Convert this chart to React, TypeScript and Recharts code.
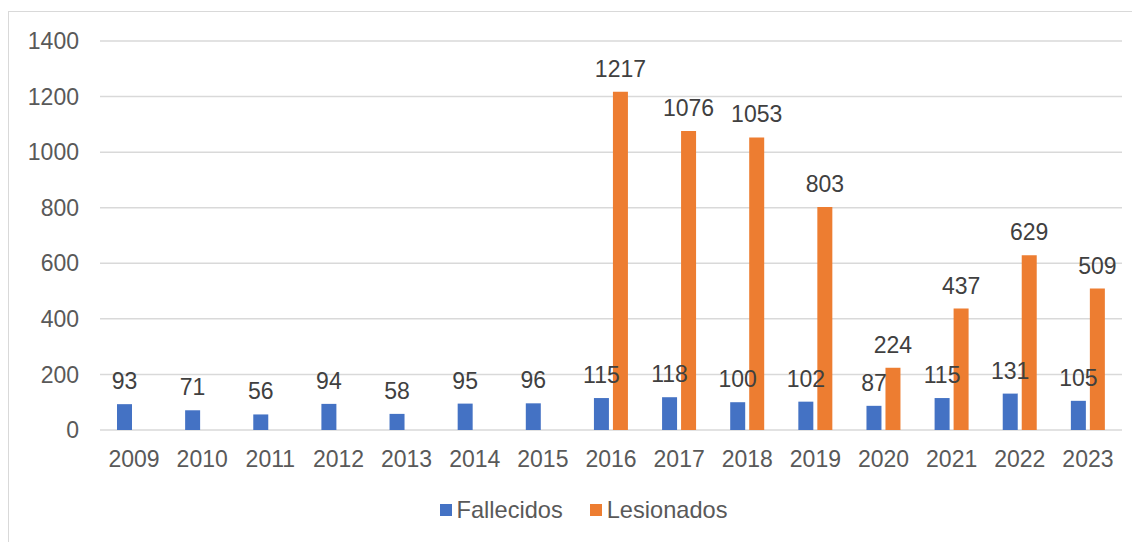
import { BarChart, Bar, XAxis, YAxis, CartesianGrid, Legend, LabelList } from "recharts";

const YEARS = ["2009", "2010", "2011", "2012", "2013", "2014", "2015", "2016", "2017", "2018", "2019", "2020", "2021", "2022", "2023"];
const FALLECIDOS = [93, 71, 56, 94, 58, 95, 96, 115, 118, 100, 102, 87, 115, 131, 105];
const LESIONADOS = [null, null, null, null, null, null, null, 1217, 1076, 1053, 803, 224, 437, 629, 509];
const Y_TICKS = [0, 200, 400, 600, 800, 1000, 1200, 1400];

const COLORS = {
  fallecidos: "#4472C4",
  lesionados: "#ED7D31",
};

const FONT = '"Liberation Sans", Arial, sans-serif';

const data = YEARS.map((year, i) => ({
  year,
  Fallecidos: FALLECIDOS[i],
  Lesionados: LESIONADOS[i],
}));

function LegendContent() {
  const items = [
    { name: "Fallecidos", color: COLORS.fallecidos },
    { name: "Lesionados", color: COLORS.lesionados },
  ];
  return (
    <div
      style={{
        height: 30,
        display: "flex",
        alignItems: "center",
        justifyContent: "center",
        paddingLeft: 36,
        gap: 27,
        fontFamily: FONT,
        fontSize: 23.6,
        color: "#595959",
      }}
    >
      {items.map((it) => (
        <div key={it.name} style={{ display: "flex", alignItems: "center" }}>
          <span style={{ width: 12, height: 12, background: it.color, marginRight: 5, display: "inline-block" }} />
          <span>{it.name}</span>
        </div>
      ))}
    </div>
  );
}

export default function App() {
  return (
    <div
      style={{
        marginTop: 3,
        width: 1140,
        height: 531,
        borderTop: "1px solid #d9d9d9",
        borderLeft: "1px solid #d9d9d9",
        background: "#fff",
        overflow: "hidden",
      }}
    >
      <BarChart
        width={1131}
        height={530}
        data={data}
        margin={{ top: 29, right: 18, left: 0, bottom: 17 }}
        barSize={15}
        barGap={4}
      >
        <CartesianGrid vertical={false} stroke="#d9d9d9" strokeWidth={1.5} />
        <XAxis
          dataKey="year"
          height={65}
          axisLine={false}
          tickLine={false}
          tickSize={0}
          tickMargin={21}
          tick={{ fontSize: 23, fill: "#595959", fontFamily: FONT }}
        />
        <YAxis
          width={91}
          domain={[0, 1400]}
          ticks={Y_TICKS}
          axisLine={false}
          tickLine={false}
          tickSize={0}
          tickMargin={21}
          tick={{ fontSize: 23, fill: "#595959", fontFamily: FONT }}
        />
        <Legend verticalAlign="bottom" height={30} content={() => <LegendContent />} />
        <Bar dataKey="Fallecidos" fill={COLORS.fallecidos} isAnimationActive={false}>
          <LabelList dataKey="Fallecidos" position="top" offset={15} fill="#404040" fontSize={23} fontFamily={FONT} />
        </Bar>
        <Bar dataKey="Lesionados" fill={COLORS.lesionados} isAnimationActive={false}>
          <LabelList dataKey="Lesionados" position="top" offset={15} fill="#404040" fontSize={23} fontFamily={FONT} />
        </Bar>
      </BarChart>
    </div>
  );
}
